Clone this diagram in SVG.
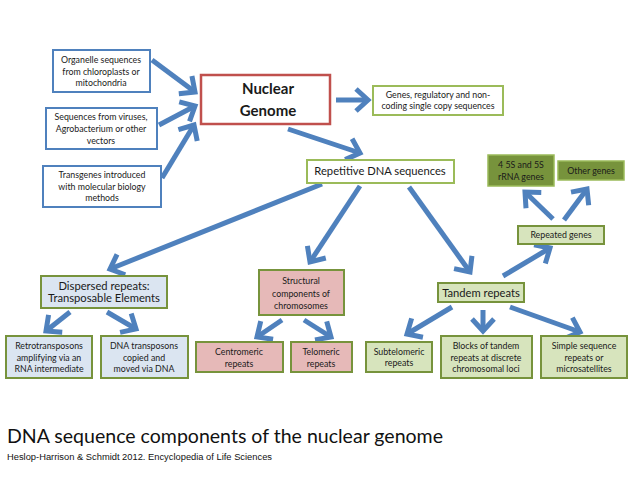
<svg xmlns="http://www.w3.org/2000/svg" width="638" height="479" viewBox="0 0 638 479">
<style>
text{font-family:Lato,"Liberation Sans",sans-serif;font-size:8.8px;fill:#1a1a1a;text-anchor:middle}
.blue{fill:#ffffff;stroke:#4f81bd;stroke-width:2}
.red{fill:#ffffff;stroke:#c0504d;stroke-width:2.5}
.gw{fill:#ffffff;stroke:#9bbb59;stroke-width:2}
.lb{fill:#dbe5f1;stroke:#77933c;stroke-width:2}
.pk{fill:#e6b9b8;stroke:#77933c;stroke-width:2}
.lg{fill:#d7e4bd;stroke:#77933c;stroke-width:2}
.dg{fill:#77933c;stroke:#9bbb59;stroke-width:1.5}
.big{font-size:11.2px}
.nuc{font-size:15px;font-weight:bold}
#connectors line{stroke:#4f81bd;stroke-width:5;marker-end:url(#ah)}
</style>
<defs>
<marker id="ah" markerUnits="userSpaceOnUse" viewBox="-16 -14 20 28" markerWidth="20" markerHeight="28" refX="0" refY="0" orient="auto">
<path d="M-12,-11 L0,0 L-12,11" fill="none" stroke="#4f81bd" stroke-width="5" stroke-linejoin="miter"/>
</marker>
</defs>
<rect width="638" height="479" fill="#ffffff"/>
<g id="connectors">
<line x1="152" y1="60" x2="195" y2="92"/>
<line x1="159" y1="125" x2="195" y2="106"/>
<line x1="162" y1="178" x2="194" y2="125"/>
<line x1="336" y1="100" x2="368" y2="100"/>
<line x1="288" y1="129" x2="360" y2="153"/>
<line x1="322" y1="184" x2="110" y2="269"/>
<line x1="360" y1="186" x2="310" y2="262"/>
<line x1="409" y1="187" x2="470" y2="272"/>
<line x1="503" y1="276" x2="550" y2="248"/>
<line x1="553" y1="219" x2="525" y2="192"/>
<line x1="564" y1="220" x2="587" y2="189"/>
<line x1="452" y1="307" x2="407" y2="334"/>
<line x1="483" y1="310" x2="483" y2="331"/>
<line x1="510" y1="307" x2="580" y2="332"/>
<line x1="70" y1="312" x2="46" y2="331"/>
<line x1="107" y1="312" x2="136" y2="329"/>
<line x1="282" y1="320" x2="257" y2="337"/>
<line x1="304" y1="320" x2="331" y2="337"/>
</g>
<g id="organelle"><rect class="blue" x="53" y="50" width="97" height="42"/><text x="101" y="63">Organelle sequences</text><text x="101" y="74.5">from chloroplasts or</text><text x="101" y="86">mitochondria</text></g>
<g id="viruses"><rect class="blue" x="46" y="108" width="111" height="41"/><text x="101" y="120">Sequences from viruses,</text><text x="101" y="132">Agrobacterium or other</text><text x="101" y="144">vectors</text></g>
<g id="transgenes"><rect class="blue" x="43" y="166" width="118" height="41"/><text x="102" y="178">Transgenes introduced</text><text x="102" y="190">with molecular biology</text><text x="102" y="201">methods</text></g>
<g id="nuclear"><rect class="red" x="201" y="75" width="129" height="49"/><text class="nuc" x="268" y="94">Nuclear</text><text class="nuc" x="268" y="116">Genome</text></g>
<g id="genes"><rect class="gw" x="373" y="86" width="130" height="29"/><text x="438" y="98">Genes, regulatory and non-</text><text x="438" y="109">coding single copy sequences</text></g>
<g id="repetitive"><rect class="gw" x="307" y="160" width="147" height="23"/><text class="big" x="380" y="175">Repetitive DNA sequences</text></g>
<g id="rrna"><rect class="dg" x="488" y="155" width="66" height="31"/><text x="521" y="168">4 5S and 5S</text><text x="521" y="180">rRNA genes</text></g>
<g id="othergenes"><rect class="dg" x="558" y="161" width="66" height="19"/><text x="591" y="174">Other genes</text></g>
<g id="repeatedgenes"><rect class="lg" x="518" y="226" width="86" height="18"/><text x="561" y="238">Repeated genes</text></g>
<g id="tandem"><rect class="lg" x="438" y="283" width="86" height="19"/><text class="big" x="481" y="296.5">Tandem repeats</text></g>
<g id="subtelomeric"><rect class="lg" x="366" y="342" width="66" height="30"/><text x="399" y="355">Subtelomeric</text><text x="399" y="366">repeats</text></g>
<g id="blocks"><rect class="lg" x="441" y="336" width="91" height="42"/><text x="486" y="349">Blocks of tandem</text><text x="486" y="360.5">repeats at discrete</text><text x="486" y="372">chromosomal loci</text></g>
<g id="simple"><rect class="lg" x="541" y="336" width="86" height="42"/><text x="584" y="349">Simple sequence</text><text x="584" y="360.5">repeats or</text><text x="584" y="372">microsatellites</text></g>
<g id="dispersed"><rect class="lb" x="41" y="276" width="126" height="32"/><text class="big" x="104" y="289.5">Dispersed repeats:</text><text class="big" x="104" y="301.5">Transposable Elements</text></g>
<g id="structural"><rect class="pk" x="259" y="270" width="85" height="45"/><text x="301" y="284">Structural</text><text x="301" y="296.5">components of</text><text x="301" y="309">chromosomes</text></g>
<g id="retro"><rect class="lb" x="6" y="336" width="86" height="42"/><text x="49" y="349">Retrotransposons</text><text x="49" y="360.5">amplifying via an</text><text x="49" y="372">RNA intermediate</text></g>
<g id="dnatransposons"><rect class="lb" x="101" y="336" width="87" height="42"/><text x="144" y="349">DNA transposons</text><text x="144" y="360.5">copied and</text><text x="144" y="372">moved via DNA</text></g>
<g id="centromeric"><rect class="pk" x="196" y="342" width="87" height="30"/><text x="239" y="355">Centromeric</text><text x="239" y="366.5">repeats</text></g>
<g id="telomeric"><rect class="pk" x="291" y="342" width="61" height="30"/><text x="321" y="355">Telomeric</text><text x="321" y="366.5">repeats</text></g>
<text x="7" y="443" style="font-size:19.5px;text-anchor:start;fill:#111" textLength="436" lengthAdjust="spacingAndGlyphs">DNA sequence components of the nuclear genome</text>
<text x="7" y="460" style="font-family:'Liberation Sans',Arial,sans-serif;font-size:8.3px;text-anchor:start;fill:#111" textLength="265" lengthAdjust="spacingAndGlyphs">Heslop-Harrison &amp; Schmidt 2012. Encyclopedia of Life Sciences</text>
</svg>
